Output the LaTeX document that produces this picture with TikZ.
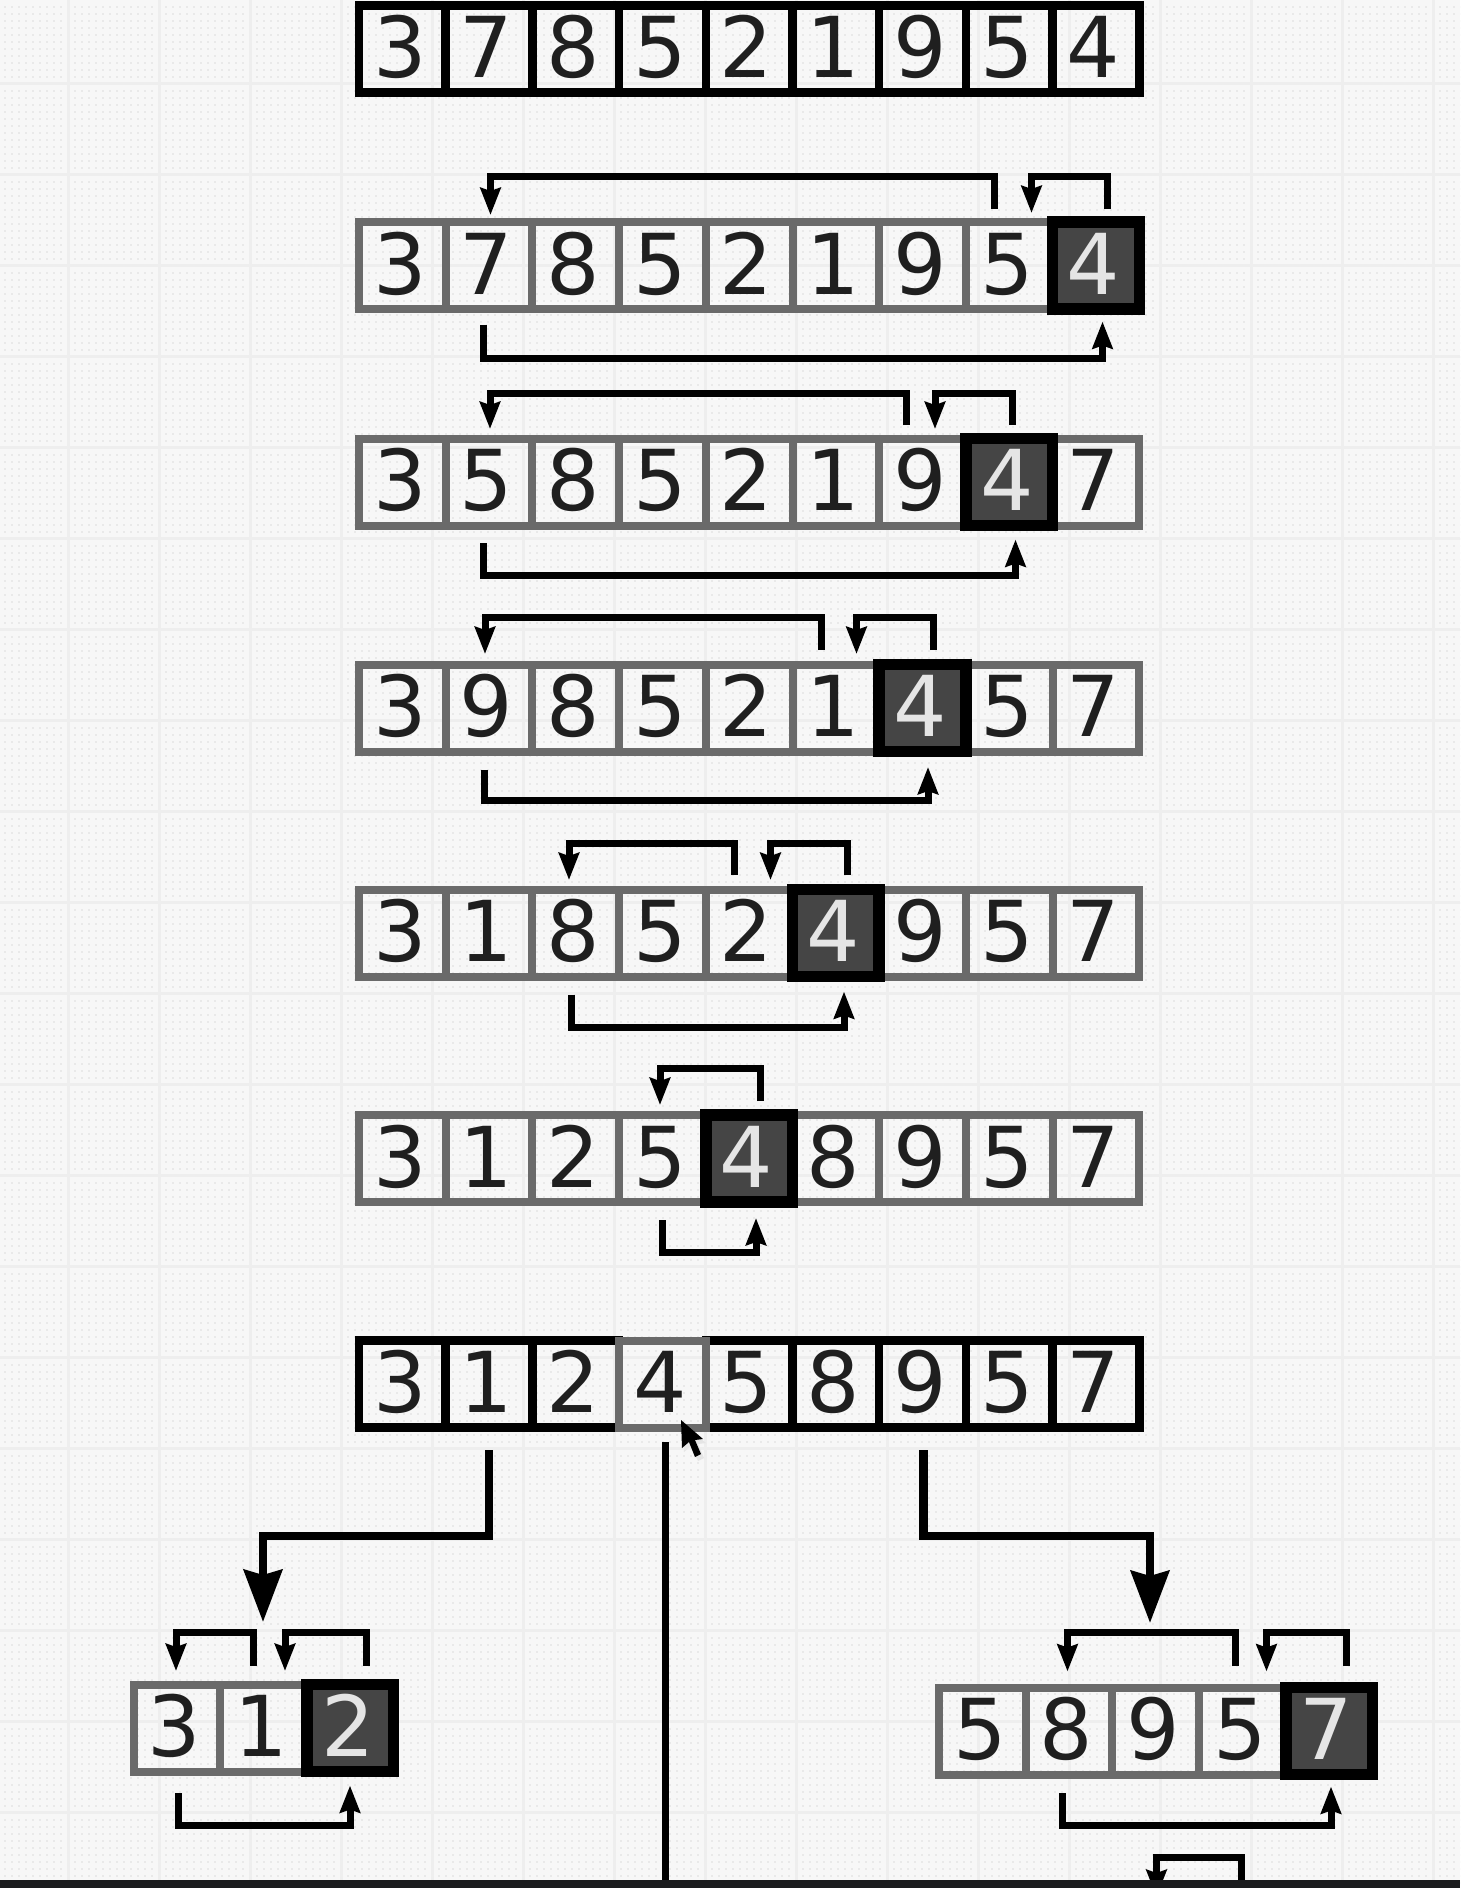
\documentclass[tikz,border=0pt]{standalone}
\usepackage{fontspec}
\setmainfont{DejaVu Sans}
\usetikzlibrary{arrows.meta}
\definecolor{bgcol}{HTML}{F7F7F7}
\definecolor{dotcol}{HTML}{E9E9E9}
\definecolor{gridcol}{HTML}{EEEEEE}
\definecolor{graycell}{HTML}{6A6A6A}
\definecolor{darkfill}{HTML}{454545}
\definecolor{barcol}{HTML}{1B1C1E}
\newcommand{\pitch}{86.7}
\tikzset{
  x=1pt,y=-1pt,
  digit/.style={font=\fontsize{84}{84}\selectfont, text height=57pt, text depth=0pt,
    minimum width=\pitch pt, minimum height=87pt, inner sep=0pt, outer sep=0pt, anchor=center},
  blackcell/.style={digit, draw=black, line width=8.5pt, text=black!88},
  graycell/.style={digit, draw=graycell, line width=8pt, text=black!88},
  pivotcell/.style={digit, draw=black, line width=11.5pt, fill=darkfill, text=white!90!black},
  conn/.style={draw=black, line width=7pt, miter limit=4,
    -{Stealth[length=27pt,width=20pt,inset=3pt]}},
  bigconn/.style={draw=black, line width=8.5pt,
    -{Stealth[length=52pt,width=38pt,inset=5pt]}},
  plainline/.style={draw=black, line width=7pt},
}
% \cellrow{row name}{x of left line}{y centre}{digits}{base style}{top style}{index of top cell}
\newcommand{\cellrow}[7]{%
  \foreach \dg [count=\ii] in {#4} {%
    \ifnum\ii=#7\relax\else
      \node[#5] (#1c\ii) at ({#2+(\ii-0.5)*\pitch},#3) {\hspace*{-5pt}\dg};
    \fi
  }%
  \foreach \dg [count=\ii] in {#4} {%
    \ifnum\ii=#7\relax
      \node[#6] (#1c\ii) at ({#2+(\ii-0.5)*\pitch},#3) {\hspace*{-5pt}\dg};
    \fi
  }%
}
% \bracket{style}{name}{x start}{y start}{y of run}{x end}{y tip}
\newcommand{\bracket}[7]{%
  \coordinate (#2s) at (#3,#4);
  \coordinate (#2m) at (#6,#5);
  \coordinate (#2e) at (#6,#7);
  \draw[#1] (#2s) |- (#2m) -- (#2e);
}
\begin{document}
\begin{tikzpicture}
\useasboundingbox (0,0) rectangle (1460,1888);
\fill[bgcol] (0,0) rectangle (1460,1888);
% dot texture
\foreach \yy in {0,...,269} {
  \draw[dotcol, line width=2pt, dash pattern=on 2pt off 5pt]
    (4,{6.5+7*\yy}) -- (1460,{6.5+7*\yy});
}
% grid
\foreach \xx in {0,...,15} { \draw[gridcol, line width=3pt] ({68+91*\xx},0) -- ({68+91*\xx},1888); }
\foreach \yy in {0,...,20} { \draw[gridcol, line width=3pt] (0,{83+91*\yy}) -- (1460,{83+91*\yy}); }

% rows
\cellrow{ra}{359}{49}{3,7,8,5,2,1,9,5,4}{blackcell}{blackcell}{0}
\cellrow{rb}{359}{265.5}{3,7,8,5,2,1,9,5,4}{graycell}{pivotcell}{9}
\cellrow{rc}{359}{482}{3,5,8,5,2,1,9,4,7}{graycell}{pivotcell}{8}
\cellrow{rd}{359}{708}{3,9,8,5,2,1,4,5,7}{graycell}{pivotcell}{7}
\cellrow{re}{359}{933}{3,1,8,5,2,4,9,5,7}{graycell}{pivotcell}{6}
\cellrow{rf}{359}{1158.5}{3,1,2,5,4,8,9,5,7}{graycell}{pivotcell}{5}
\cellrow{rg}{359}{1384}{3,1,2,4,5,8,9,5,7}{blackcell}{graycell}{4}
\cellrow{rl}{133.5}{1728}{3,1,2}{graycell}{pivotcell}{3}
\cellrow{rr}{939}{1731}{5,8,9,5,7}{graycell}{pivotcell}{5}

% row b connectors
\bracket{conn}{ba}{994}{209}{176}{490.5}{215}
\bracket{conn}{bb}{1107}{209}{176}{1031.5}{213}
\bracket{conn}{bc}{483}{324.5}{358}{1102.5}{321.5}
% row c
\bracket{conn}{ca}{906}{425}{393}{490}{429}
\bracket{conn}{cb}{1012}{425}{393}{935}{429}
\bracket{conn}{cc}{483}{543}{575}{1015.5}{539.5}
% row d
\bracket{conn}{da}{821}{650}{617}{485}{654}
\bracket{conn}{db}{933}{650}{617}{856.5}{654}
\bracket{conn}{dc}{484}{770}{800}{928}{767}
% row e
\bracket{conn}{ea}{734}{875}{843}{569}{880}
\bracket{conn}{eb}{847}{875}{843}{770.5}{880}
\bracket{conn}{ec}{571.5}{994.5}{1027}{844}{991.5}
% row f
\bracket{conn}{fa}{760}{1101}{1068}{660}{1105}
\bracket{conn}{fc}{662}{1220}{1252}{756}{1218}
% left block
\bracket{conn}{la}{253}{1665.5}{1632}{176}{1671}
\bracket{conn}{lb}{366.5}{1665.5}{1632}{285}{1671}
\bracket{conn}{lc}{178}{1793}{1825}{350}{1785.5}
% right block
\bracket{conn}{ra}{1235}{1666}{1632}{1067.5}{1671.5}
\bracket{conn}{rb}{1346}{1666}{1632}{1266.5}{1671.5}
\bracket{conn}{rc}{1062}{1793}{1825}{1331}{1786.5}
% partial bracket running off the bottom
\bracket{conn}{ga}{1241}{1900}{1857}{1156.5}{1897}

% big connectors from row g
\bracket{bigconn}{ll}{489}{1450}{1536}{263}{1622}
\bracket{bigconn}{rl}{923.5}{1450}{1536}{1150}{1623}
\coordinate (cts) at (665,1442);
\coordinate (cte) at (665,1885);
\draw[plainline] (cts) -- (cte);

% mouse pointer
\fill[black!10] (683,1424) -- (684,1452) -- (691,1446) -- (698,1461) -- (704,1458) -- (698,1444) -- (706,1443) -- cycle;
\fill[black] (681,1420) -- (682,1448) -- (689,1442) -- (695,1457) -- (701,1454) -- (695,1440) -- (703,1439) -- cycle;

% bottom bar
\fill[barcol] (0,1880) rectangle (1460,1888);
\end{tikzpicture}
\end{document}
